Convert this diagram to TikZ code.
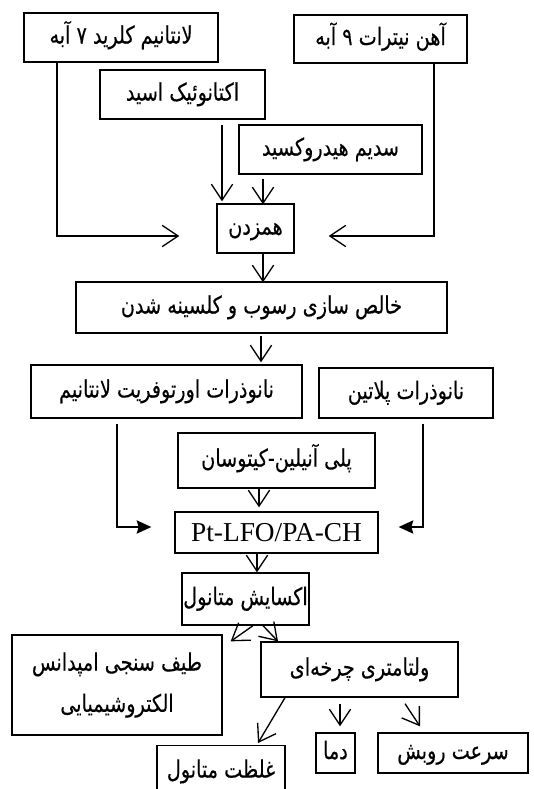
\documentclass[tikz,border=0pt]{standalone}
\usepackage{fontspec}
\setmainfont{Liberation Serif}
\newfontfamily\fa[Script=Arabic,FakeStretch=0.8,FakeBold=0.3]{DejaVu Sans}
\TeXXeTstate=1
\usetikzlibrary{arrows.meta,calc}
\begin{document}
\begin{tikzpicture}[x=0.75pt,y=-0.75pt,
  base/.style={draw,line width=1pt,inner sep=1pt,align=center,font=\fa\fontsize{18}{29}\selectfont},
  box/.style={base,text height=10pt,text depth=1pt},
  sz/.style 2 args={minimum width=#1*0.75pt,minimum height=#2*0.75pt},
  barb/.style={line width=1pt,-{Straight Barb[length=12pt,width=16pt,line width=1pt]}},
  tri/.style={line width=1pt,-{Stealth[length=11pt,width=10pt,inset=1.5pt]}}]
\clip (0,0) rectangle (534,789);
\fill[white] (0,0) rectangle (534,789);
% boxes
\node[box,sz={194}{49}] (A) at (121,37.5) {\beginR لانتانیم کلرید ۷ آبه\endR};
\node[box,sz={173}{48}] (B) at (380.5,39) {\beginR آهن نیترات ۹ آبه\endR};
\node[box,sz={165}{49}] (C) at (182.5,94.5) {\beginR اکتانوئیک اسید\endR};
\node[box,sz={183}{49}] (D) at (330.5,149.5) {\beginR سدیم هیدروکسید\endR};
\node[box,sz={77}{49}] (E) at (255.5,228.5) {\beginR همزدن\endR};
\node[box,sz={371}{51}] (F) at (261.5,307.5) {\beginR خالص سازی رسوب و کلسینه شدن\endR};
\node[box,sz={271}{53}] (G) at (166.5,391.5) {\beginR نانوذرات اورتوفریت لانتانیم\endR};
\node[box,sz={174}{50}] (H) at (406,393) {\beginR نانوذرات پلاتین\endR};
\node[box,sz={197}{55}] (I) at (276.5,460.5) {\beginR پلی آنیلین-کیتوسان\endR};
\node[base,sz={203}{41},font=\fontsize{20.5}{24}\selectfont] (J) at (276.5,532.5) {Pt-LFO/PA-CH};
\node[box,sz={125}{52}] (K) at (245.5,599) {\beginR اکسایش متانول\endR};
\node[base,sz={210}{100}] (L) at (117,685) {\beginR طیف سنجی امپدانس\endR\\[2pt]\beginR الکتروشیمیایی\endR};
\node[box,sz={197}{55}] (M) at (359.5,669.5) {\beginR ولتامتری چرخه‌ای\endR};
\node[box,sz={128}{52},anchor=north] (N) at (221,745) {\beginR غلظت متانول\endR};
\node[box,sz={39}{40}] (O) at (335.5,753) {\beginR دما\endR};
\node[box,sz={150}{40}] (P) at (453,753) {\beginR سرعت روبش\endR};
% connectors
\draw[barb] ($(A.south)+(-64,0)$) |- ($(E.west)+(-37,7.5)$);
\draw[barb] ($(B.south)+(53.5,0)$) |- ($(E.east)+(34,7.5)$);
\draw[barb] ($(C.south)+(39.5,5)$) -- ($(E.north)+(-33.5,-2)$);
\draw[barb] ($(D.south)+(-67.5,4)$) -- ($(E.north)+(7.5,1)$);
\draw[barb] ($(E.south)+(7.5,0)$) -- ($(F.north)+(1.5,1)$);
\draw[barb] ($(F.south)+(-0.5,2)$) -- ($(G.north)+(94.5,-2)$);
\draw[tri] ($(G.south)+(-49.5,5)$) |- ($(J.west)+(-23,-5.5)$);
\draw[tri] ($(H.south)+(17,5)$) |- ($(J.east)+(20,-5.5)$);
\draw[barb] ($(I.south)+(-17.5,0)$) -- ($(J.north)+(-17.5,-4)$);
\draw[barb] ($(J.south)+(-19.5,0)$) -- ($(K.north)+(11.5,0)$);
\draw[barb] ($(K.south)+(7.5,0)$) -- ($(L.north east)+(8,7)$);
\draw[barb] ($(K.south)+(17.5,0)$) -- ($(M.north)+(-81.5,0)$);
\draw[barb] ($(M.south)+(-74.5,0)$) -- ($(N.north)+(37,-2)$);
\draw[barb] ($(M.south)+(-19.5,6)$) -- ($(O.north)+(4.5,-6)$);
\draw[barb] ($(M.south)+(45.5,6)$) -- ($(P.north)+(-33,-6)$);
\end{tikzpicture}
\end{document}
